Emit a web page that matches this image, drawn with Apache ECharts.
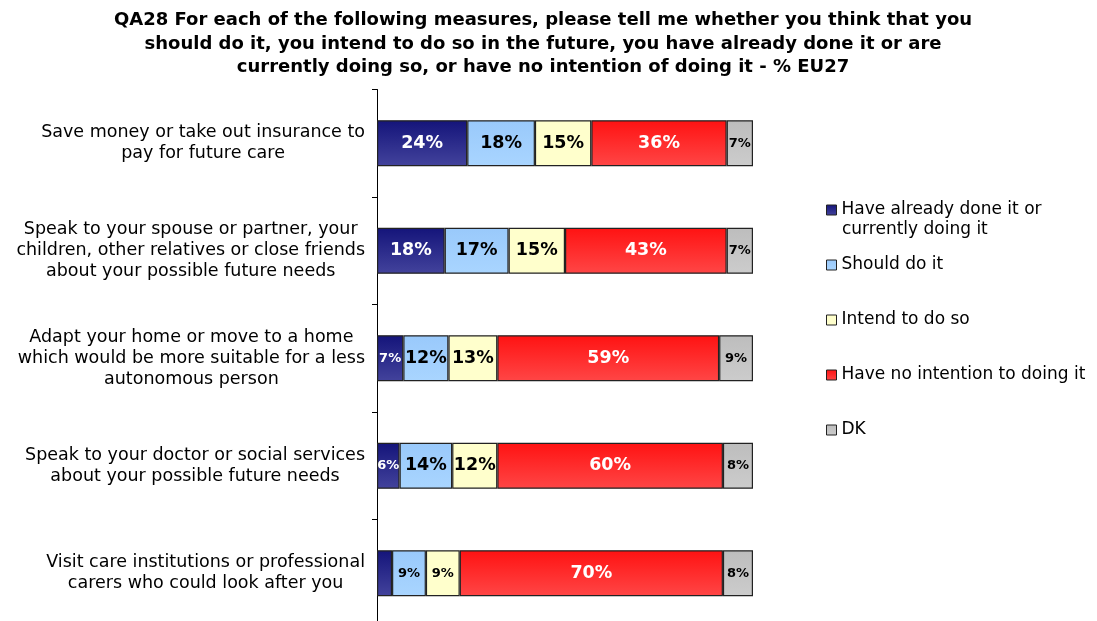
<!DOCTYPE html>
<html><head><meta charset="utf-8">
<script src="https://cdn.jsdelivr.net/npm/echarts@6/dist/echarts.min.js"></script>
<style>html,body{margin:0;padding:0;background:#fff;overflow:hidden}#c{width:1097px;height:621px}</style>
</head><body><div id="c"></div>
<script>
const categories = [
  "Save money or take out insurance to\npay for future care",
  "Speak to your spouse or partner, your\nchildren, other relatives or close friends\nabout your possible future needs",
  "Adapt your home or move to a home\nwhich would be more suitable for a less\nautonomous person",
  "Speak to your doctor or social services\nabout your possible future needs",
  "Visit care institutions or professional\ncarers who could look after you"
];
const seriesNames = ["Have already done it or currently doing it", "Should do it", "Intend to do so", "Have no intention to doing it", "DK"];
const alreadyDone = [24, 18, 7, 6, 4];
const shouldDo = [18, 17, 12, 14, 9];
const intendTo = [15, 15, 13, 12, 9];
const noIntention = [36, 43, 59, 60, 70];
const dk = [7, 7, 9, 8, 8];

const values = [alreadyDone, shouldDo, intendTo, noIntention, dk];
const grad = (a, b) => new echarts.graphic.LinearGradient(0, 0, 0, 1, [{offset: 0, color: a}, {offset: 1, color: b}]);
const colors = [
  grad('#14147a', '#43439c'),
  grad('#99c9fb', '#a9d5ff'),
  grad('#ffffcc', '#ffffcc'),
  grad('#ff1212', '#ff4646'),
  grad('#bdbdbd', '#cccccc')
];
const labelColors = ['#fff', '#000', '#000', '#fff', '#000'];
const FONT = '"DejaVu Sans", Verdana, sans-serif';

const chart = echarts.init(document.getElementById('c'));
const series = values.map((arr, i) => ({
  name: seriesNames[i],
  type: 'bar',
  stack: 'all',
  barWidth: 46,
  itemStyle: {color: colors[i], borderColor: '#222', borderWidth: 1.2},
  data: arr.map(v => ({
    value: v,
    label: {
      show: v >= 5,
      fontSize: v < 10 ? 13 : 17.5
    }
  })),
  label: {
    position: 'inside',
    formatter: '{c}%',
    color: labelColors[i],
    fontWeight: 'bold',
    fontFamily: FONT
  }
}));

const legendTops = [201, 256, 311, 366, 421];
const legends = seriesNames.map((n, i) => ({
  data: [n],
  orient: 'vertical',
  left: 826,
  top: legendTops[i],
  padding: 0,
  itemWidth: 10,
  itemHeight: 10,
  itemGap: 0,
  selectedMode: false,
  icon: 'rect',
  formatter: i === 0 ? 'Have already done it or' : '{name}',
  itemStyle: {borderColor: '#222', borderWidth: 1},
  textStyle: {fontFamily: FONT, fontSize: 17, color: '#000', lineHeight: 18}
}));

chart.setOption({
  animation: false,
  title: {
    text: 'QA28 For each of the following measures, please tell me whether you think that you\nshould do it, you intend to do so in the future, you have already done it or are\ncurrently doing so, or have no intention of doing it - % EU27',
    left: 538,
    textAlign: 'center',
    top: 4,
    textStyle: {fontFamily: FONT, fontWeight: 'bold', fontSize: 18, lineHeight: 23.5, color: '#000'}
  },
  legend: legends,
  graphic: [{
    type: 'text',
    left: 842,
    top: 221,
    style: {text: 'currently doing it', font: '17px "DejaVu Sans", Verdana, sans-serif', fill: '#000'}
  }],
  grid: {left: 377, right: 344, top: 89.5, height: 537.5, outerBoundsMode: 'none'},
  xAxis: {type: 'value', min: 0, max: 100, show: false},
  yAxis: {
    type: 'category',
    inverse: true,
    data: categories,
    axisLine: {show: true, lineStyle: {color: '#000', width: 1}},
    axisTick: {show: true, length: 5, lineStyle: {color: '#000'}},
    axisLabel: {
      margin: 12,
      formatter: v => v.split('\n').map(l => '{c|' + l + '}').join('\n'),
      rich: {c: {align: 'center', fontFamily: FONT, fontSize: 17.5, color: '#000', lineHeight: 21}}
    }
  },
  series: series
});
</script></body></html>
